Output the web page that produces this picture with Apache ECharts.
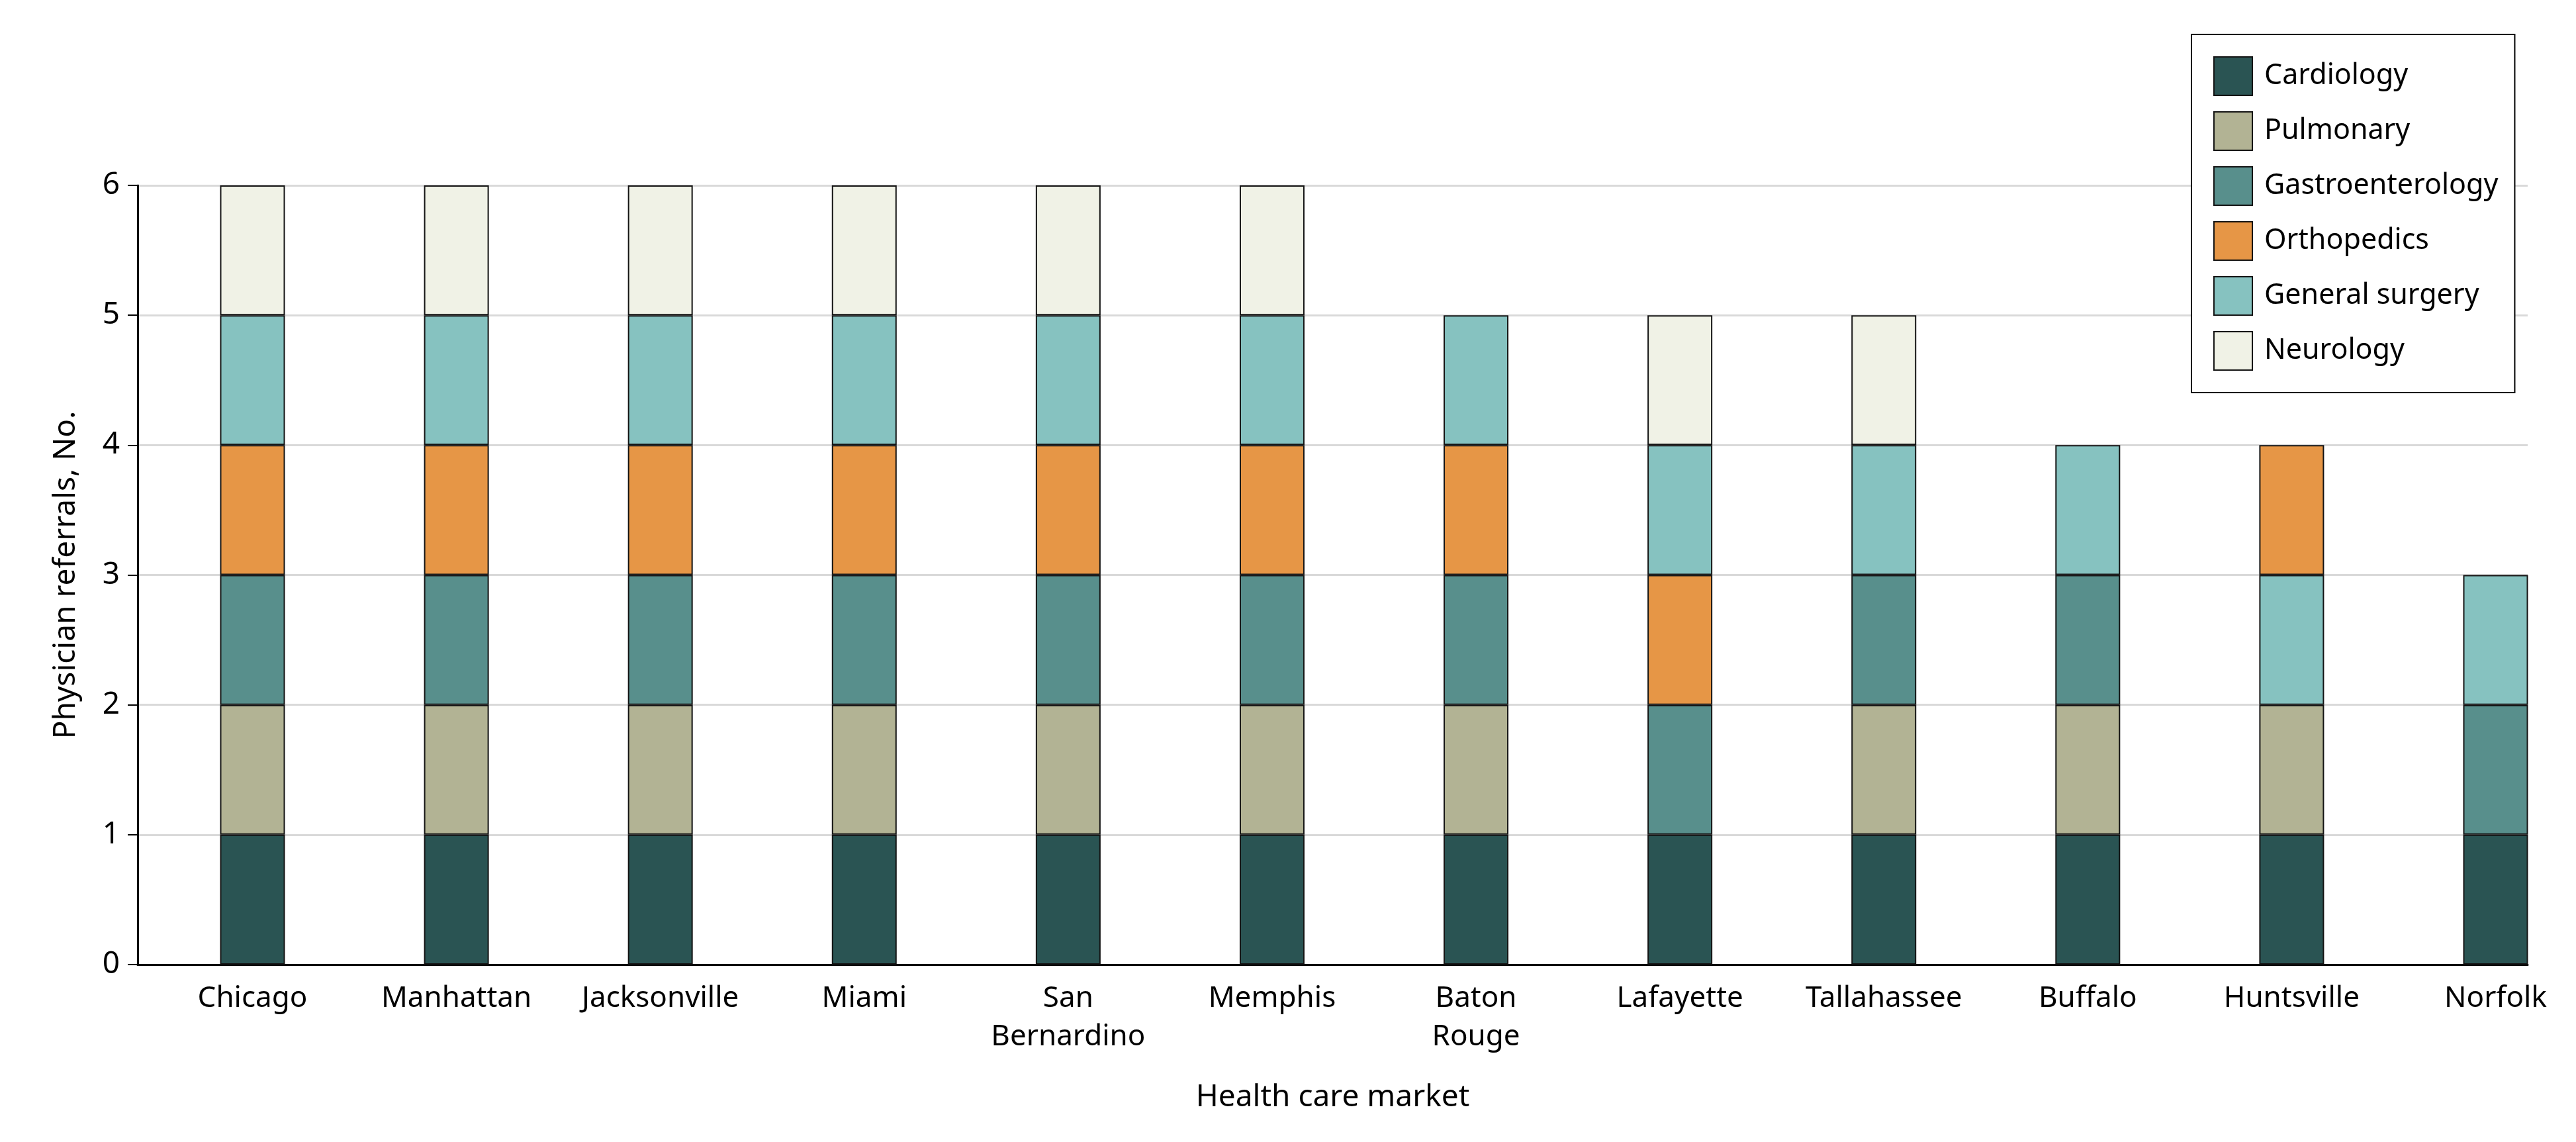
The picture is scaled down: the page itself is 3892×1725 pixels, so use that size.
<!DOCTYPE html>
<html>
<head>
<meta charset="utf-8">
<script src="https://cdn.jsdelivr.net/npm/echarts@6/dist/echarts.min.js"></script>
<style>
  html, body { margin: 0; padding: 0; background: #fff; }
  #chart { width: 3892px; height: 1725px; }
</style>
</head>
<body>
<div id="chart"></div>
<script>
// Health care markets (x axis categories)
const markets = ['Chicago', 'Manhattan', 'Jacksonville', 'Miami', 'San\nBernardino', 'Memphis',
                 'Baton\nRouge', 'Lafayette', 'Tallahassee', 'Buffalo', 'Huntsville', 'Norfolk'];
const specialties = ['Cardiology', 'Pulmonary', 'Gastroenterology', 'Orthopedics', 'General surgery', 'Neurology'];
const yTicks = [0, 1, 2, 3, 4, 5, 6];

// Physician referrals per specialty (null = none)
const cardiology     = [1, 1, 1, 1, 1, 1, 1, 1, 1, 1, 1, 1];
const pulmonary      = [1, 1, 1, 1, 1, 1, 1, null, 1, 1, 1, null];
const gastro         = [1, 1, 1, 1, 1, 1, 1, 1, 1, 1, null, 1];
const orthopedics    = [1, 1, 1, 1, 1, 1, 1, 1, null, null, 1, null];
const generalSurgery = [1, 1, 1, 1, 1, 1, 1, 1, 1, 1, 1, 1];
const neurology      = [1, 1, 1, 1, 1, 1, null, 1, 1, null, null, null];
// markets where the orthopedics segment is stacked above general surgery
const orthoOnTopMarkets = ['Huntsville'];

const colors = {
  'Cardiology': '#2a5453',
  'Pulmonary': '#b2b394',
  'Gastroenterology': '#588f8c',
  'Orthopedics': '#e69646',
  'General surgery': '#86c2c0',
  'Neurology': '#f0f2e6'
};

const FONT = 'Noto Sans';
const onTop = i => orthoOnTopMarkets.indexOf(markets[i]) >= 0;
const toData = arr => arr.map(v => (v == null ? '-' : v));

function barSeries(name, values) {
  return {
    name: name,
    type: 'bar',
    stack: 'total',
    xAxisIndex: 1,
    yAxisIndex: 1,
    barWidth: 98,
    data: toData(values),
    itemStyle: { color: colors[name], borderColor: '#141414', borderWidth: 2 },
    emphasis: { disabled: true }
  };
}

const orthoMain = orthopedics.map((v, i) => onTop(i) ? null : v);
const orthoTop = orthopedics.map((v, i) => onTop(i) ? v : null);

const series = [
  barSeries('Cardiology', cardiology),
  barSeries('Pulmonary', pulmonary),
  barSeries('Gastroenterology', gastro),
  barSeries('Orthopedics', orthoMain),
  barSeries('General surgery', generalSurgery),
  barSeries('Orthopedics', orthoTop),
  barSeries('Neurology', neurology)
];

// Frame grid (axes, gridlines) and bar grid (first to last category centre)
const FRAME = { left: 208, right: 73, top: 280, bottom: 268 };
const firstCenter = 381.5, lastCenter = 3770.5;

const chart = echarts.init(document.getElementById('chart'), null, { renderer: 'canvas' });
chart.setOption({
  backgroundColor: '#fff',
  animation: false,
  textStyle: { fontFamily: FONT },
  grid: [
    { left: FRAME.left, right: FRAME.right, top: FRAME.top, bottom: FRAME.bottom, containLabel: false },
    { left: firstCenter, width: lastCenter - firstCenter, top: FRAME.top, bottom: FRAME.bottom, containLabel: false }
  ],
  legend: {
    orient: 'vertical',
    left: 3311,
    top: 52,
    padding: [33, 25, 33, 33],
    itemWidth: 58,
    itemHeight: 58,
    itemGap: 23,
    icon: 'rect',
    backgroundColor: '#fff',
    borderColor: '#000',
    borderWidth: 2,
    borderRadius: 0,
    data: specialties,
    selectedMode: false,
    textStyle: { fontFamily: FONT, fontSize: 43, lineHeight: 50, color: '#000', padding: [0, 0, 0, 13] }
  },
  xAxis: [
    {
      type: 'value',
      gridIndex: 0,
      min: 0,
      max: 1,
      axisLine: { show: true, onZero: false, lineStyle: { color: '#000', width: 3 } },
      axisTick: { show: false },
      splitLine: { show: false },
      axisLabel: { show: false },
      name: 'Health care market',
      nameLocation: 'middle',
      nameGap: 178,
      nameTextStyle: { fontFamily: FONT, fontSize: 46, color: '#000' }
    },
    {
      type: 'category',
      gridIndex: 1,
      boundaryGap: false,
      data: markets,
      axisLine: { show: false },
      axisTick: { show: false },
      splitLine: { show: false },
      axisLabel: {
        interval: 0,
        fontFamily: FONT,
        fontSize: 44,
        lineHeight: 58,
        color: '#000',
        margin: 22
      }
    }
  ],
  yAxis: [
    {
      type: 'value',
      gridIndex: 0,
      min: yTicks[0],
      max: yTicks[yTicks.length - 1],
      interval: 1,
      axisLine: { show: true, onZero: false, lineStyle: { color: '#000', width: 3 } },
      axisTick: { show: true, length: 15, lineStyle: { color: '#000', width: 2 } },
      axisLabel: { fontFamily: FONT, fontSize: 46, color: '#000', margin: 27 },
      splitLine: { show: true, lineStyle: { color: '#d9d9d9', width: 3 } },
      name: 'Physician referrals, No.',
      nameLocation: 'middle',
      nameGap: 85,
      nameRotate: 90,
      nameTextStyle: { fontFamily: FONT, fontSize: 46, color: '#000' }
    },
    {
      type: 'value',
      gridIndex: 1,
      min: yTicks[0],
      max: yTicks[yTicks.length - 1],
      interval: 1,
      show: false
    }
  ],
  series: series
});
</script>
</body>
</html>
